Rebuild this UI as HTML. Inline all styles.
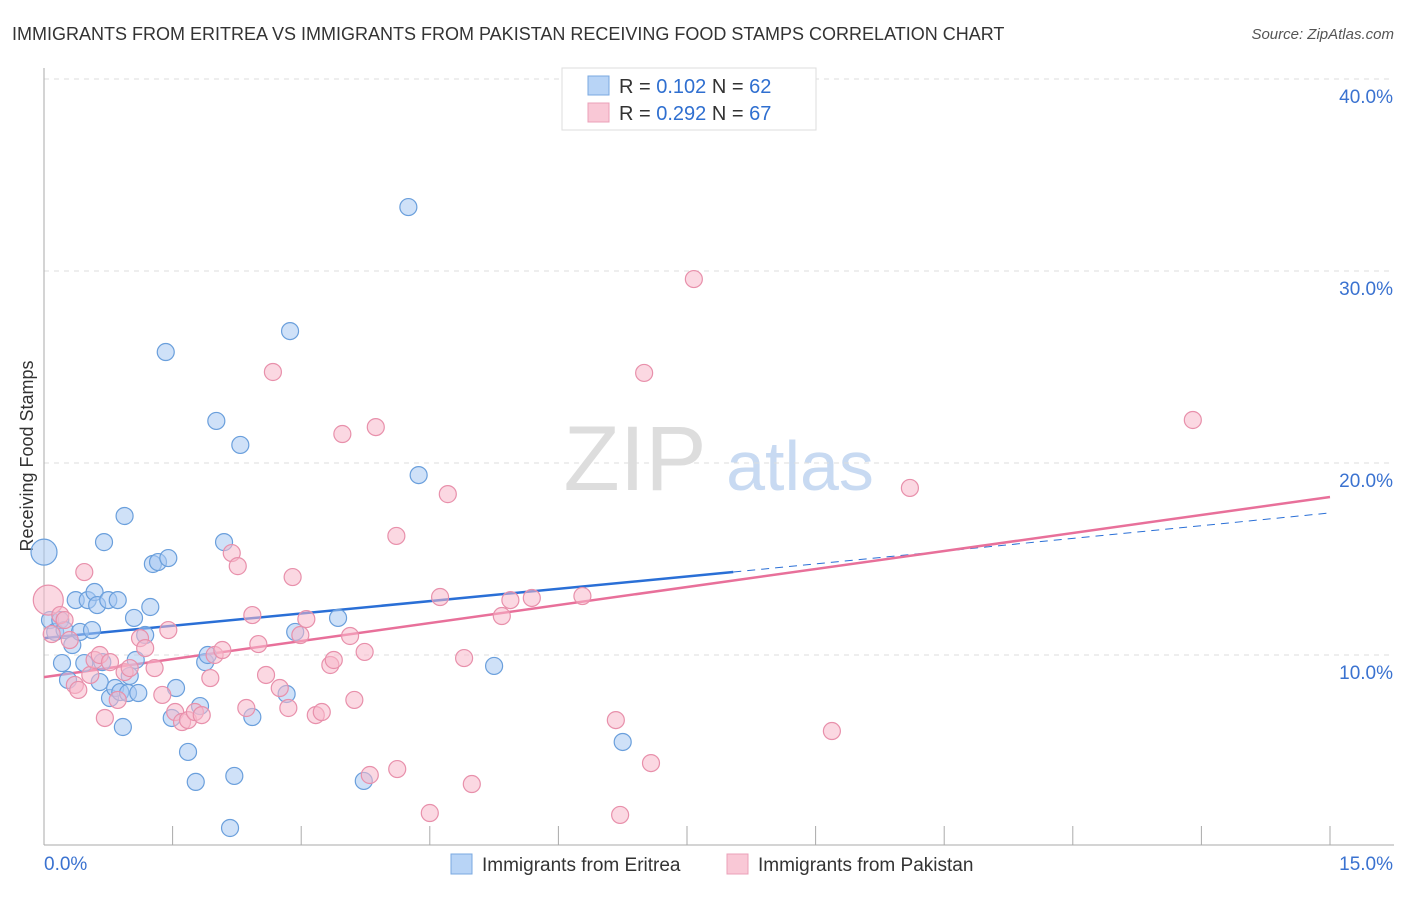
<!DOCTYPE html>
<html><head><meta charset="utf-8"><style>
body{margin:0;background:#fff;font-family:"Liberation Sans",sans-serif;}
svg text{font-family:"Liberation Sans",sans-serif;}
</style></head><body>
<svg id="chart" width="1406" height="892">
<text x="12" y="40" font-size="18" fill="#333">IMMIGRANTS FROM ERITREA VS IMMIGRANTS FROM PAKISTAN RECEIVING FOOD STAMPS CORRELATION CHART</text>
<text x="1394" y="39" font-size="15" fill="#555" text-anchor="end" font-style="italic">Source: ZipAtlas.com</text>
<text x="33" y="456" font-size="18" fill="#333" text-anchor="middle" transform="rotate(-90 33 456)">Receiving Food Stamps</text>
<g>
<text x="635" y="490" font-size="92" fill="#ddd" font-family="Liberation Serif" text-anchor="middle">ZIP</text>
<text x="800" y="490" font-size="70" fill="#c8daf2" text-anchor="middle">atlas</text>
</g>
<g id="grid"></g><g id="axes"></g><g id="trends"></g><g id="points"></g>
<g>
<rect x="562" y="68" width="254" height="62" fill="#fff" stroke="#ddd"/>
<rect x="588" y="76" width="21" height="19" fill="#b8d4f6" stroke="#7aa8e0"/>
<rect x="588" y="103" width="21" height="19" fill="#f9c8d6" stroke="#eba0b8"/>
<text x="619" y="93" font-size="20" fill="#333">R = <tspan fill="#2f6fd0">0.102</tspan>   N = <tspan fill="#2f6fd0">62</tspan></text>
<text x="619" y="120" font-size="20" fill="#333">R = <tspan fill="#2f6fd0">0.292</tspan>   N = <tspan fill="#2f6fd0">67</tspan></text>
</g>
<g>
<rect x="451" y="854" width="21" height="20" fill="#b8d4f6" stroke="#7aa8e0"/>
<text x="482" y="871" font-size="19" fill="#333">Immigrants from Eritrea</text>
<rect x="727" y="854" width="21" height="20" fill="#f9c8d6" stroke="#eba0b8"/>
<text x="758" y="871" font-size="19" fill="#333">Immigrants from Pakistan</text>
</g>
</svg>
<script>
const yTicks=[10,20,30,40];
const yTickLabels=["10.0%","20.0%","30.0%","40.0%"];
const xTicks=[0,1.5,3,4.5,6,7.5,9,10.5,12,13.5,15];
const eritreaX=[0,0.07,0.13,0.19,0.24,0.21,0.28,0.33,0.37,0.42,0.47,0.51,0.56,0.59,0.62,0.65,0.68,0.70,0.75,0.77,0.83,0.86,0.89,0.92,0.94,0.98,1.00,1.05,1.07,1.10,1.18,1.24,1.27,1.33,1.42,1.45,1.49,1.54,1.68,1.77,1.82,1.88,1.91,2.01,2.10,2.17,2.22,2.29,2.43,2.83,2.87,2.93,3.43,3.73,4.25,4.37,5.25,6.75];
const eritreaY=[15.36,11.82,11.20,11.82,11.30,9.58,8.70,10.52,12.86,11.20,9.58,12.86,11.30,13.28,12.60,8.59,9.63,15.88,12.86,7.76,8.28,12.86,8.07,6.25,17.24,8.02,8.91,11.93,9.74,8.02,11.04,12.50,14.74,14.84,25.78,15.05,6.72,8.28,4.95,3.39,7.34,9.63,10.00,22.19,15.88,0.99,3.70,20.94,6.77,7.97,26.87,11.20,11.93,3.44,33.33,19.37,9.43,5.47];
const pakistanX=[0.05,0.09,0.19,0.24,0.30,0.36,0.40,0.47,0.54,0.59,0.65,0.71,0.77,0.86,0.94,1.00,1.12,1.18,1.29,1.38,1.45,1.53,1.61,1.68,1.76,1.84,1.94,1.99,2.08,2.19,2.26,2.36,2.43,2.50,2.59,2.67,2.75,2.85,2.90,2.99,3.06,3.17,3.24,3.34,3.38,3.48,3.57,3.62,3.74,3.80,3.87,4.11,4.12,4.50,4.62,4.71,4.90,4.99,5.34,5.44,5.69,6.28,6.67,6.72,7.00,7.08,7.58,9.19,10.10,13.40];
const pakistanY=[12.86,11.09,12.08,11.82,10.78,8.44,8.18,14.32,8.96,9.74,10.00,6.72,9.63,7.66,9.11,9.32,10.88,10.36,9.32,7.92,11.30,7.03,6.51,6.61,7.03,6.87,8.80,10.00,10.26,15.31,14.63,7.24,12.08,10.57,8.96,24.74,8.28,7.24,14.06,11.04,11.87,6.87,7.03,9.48,9.74,21.51,10.99,7.66,10.16,3.75,21.87,16.20,4.06,1.77,13.02,18.38,9.84,3.28,12.03,12.86,12.97,13.07,6.61,1.67,24.69,4.37,29.58,6.04,18.70,22.24];
const eritreaTrend=[10.88,14.32,17.40]; // at x=0, 8.04, 15
const eritreaTrendX=[0,8.04,15];
const pakistanTrend=[8.85,18.23];
const pakistanTrendX=[0,15];

const NS="http://www.w3.org/2000/svg";
const X0=44,X1=1330,Y0=847,PX=192/10;
const sx=v=>X0+(v/15)*(X1-X0);
const sy=v=>Y0-v*PX;
function mk(tag,attrs,parent){const e=document.createElementNS(NS,tag);for(const k in attrs)e.setAttribute(k,attrs[k]);document.getElementById(parent).appendChild(e);return e;}
yTicks.forEach((t,i)=>{
  const g=mk('line',{x1:X0,x2:1394,y1:sy(t),y2:sy(t),stroke:'#ddd','stroke-dasharray':'5,5'},'grid');
  
  
  const l=mk('text',{x:1393,y:sy(t)+24,'font-size':19,fill:'#3a72d0','text-anchor':'end'},'axes');
  l.textContent=yTickLabels[i];
  
  
});
let a=mk('line',{x1:X0,x2:X0,y1:68,y2:845,stroke:'#aaa'},'axes');


a=mk('line',{x1:X0,x2:1394,y1:845,y2:845,stroke:'#aaa'},'axes');


xTicks.forEach(t=>{
  if(t===0)return;
  const k=mk('line',{x1:sx(t),x2:sx(t),y1:826,y2:845,stroke:'#aaa'},'axes');
  
  
});
let xl=mk('text',{x:44,y:870,'font-size':19,fill:'#3a72d0'},'axes');xl.textContent='0.0%';


xl=mk('text',{x:1393,y:870,'font-size':19,fill:'#3a72d0','text-anchor':'end'},'axes');xl.textContent='15.0%';



function dot(x,y,r,fill,stroke,name){
  const c=mk('circle',{cx:sx(x),cy:sy(y),r:r,fill:fill,'fill-opacity':0.55,stroke:stroke,'stroke-width':1.2},'points');
  
  
}
eritreaX.forEach((x,i)=>dot(x,eritreaY[i],i===0?13:8.5,'#a8c8f2','#6a9fdc','eritrea-point'));
pakistanX.forEach((x,i)=>dot(x,pakistanY[i],i===0?15:8.5,'#f7b8ca','#e890ab','pakistan-point'));

let t=mk('line',{x1:sx(eritreaTrendX[0]),y1:sy(eritreaTrend[0]),x2:sx(eritreaTrendX[1]),y2:sy(eritreaTrend[1]),stroke:'#2a6fd6','stroke-width':2.5},'trends');


t=mk('line',{x1:sx(eritreaTrendX[1]),y1:sy(eritreaTrend[1]),x2:sx(eritreaTrendX[2]),y2:sy(eritreaTrend[2]),stroke:'#2a6fd6','stroke-width':1,'stroke-dasharray':'8,6'},'trends');


t=mk('line',{x1:sx(pakistanTrendX[0]),y1:sy(pakistanTrend[0]),x2:sx(pakistanTrendX[1]),y2:sy(pakistanTrend[1]),stroke:'#e8709a','stroke-width':2.5},'trends');


</script>
</body></html>
